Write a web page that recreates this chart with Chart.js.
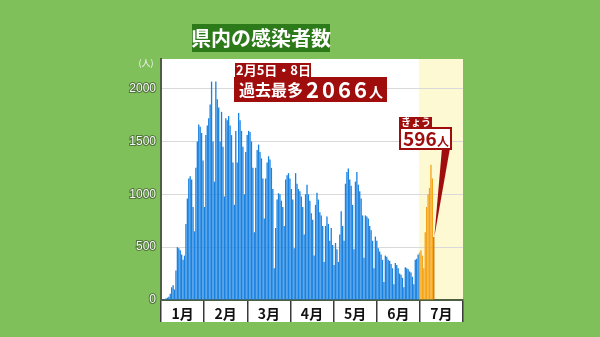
<!DOCTYPE html>
<html><head><meta charset="utf-8">
<script src="https://cdn.jsdelivr.net/npm/chart.js@4.4.0/dist/chart.umd.min.js"></script>
<style>html,body{margin:0;padding:0;background:#80c05a;}#wrap{width:600px;height:337px;position:relative;}</style>
</head><body><div id="wrap"><canvas id="c" width="600" height="337"></canvas></div>
<script>
const titleText = '県内の感染者数';
const monthLabels = ['1月','2月','3月','4月','5月','6月','7月'];
const daysInMonth = [31,28,31,30,31,30,31];
const yTicks = [0,500,1000,1500,2000];
const yMax = 2280;
const unitLabel = '(人)';
// Jan 1 – Jun 30
const janToJunCases = [
  5,8,
  10,15,22,30,60,120,140,
  100,280,500,490,470,430,380,
  420,720,960,1150,1170,1140,880,
  650,1250,1500,1660,1640,1580,1320,
  880,1560,1650,1720,1850,2066,1500,
  1120,2066,1900,1820,1500,1780,1450,
  980,1720,1700,1740,1650,1560,1300,
  900,1600,1300,1770,1700,1600,1450,
  1000,1400,1560,1600,1590,1500,1250,
  640,1250,1420,1470,1400,1340,1150,
  770,1150,1300,1360,1330,1250,1050,
  300,680,950,1010,1000,940,880,
  700,1140,1180,1200,1150,1050,950,
  490,1200,1100,1050,1030,980,880,
  620,1000,1090,1000,940,820,760,
  420,900,1015,950,830,800,700,
  360,700,790,720,560,680,520,
  330,540,480,360,620,840,700,
  560,1100,1210,1245,1140,1080,900,
  480,1120,1210,1090,1030,960,800,
  400,800,790,770,700,660,560,
  300,600,560,490,460,430,380,
  170,420,410,380,370,340,300,
  150,350,330,300,250,240,210,
  120,310,300,290,270,260,220,
  150,380,390,430
];
// Jul 1 – Jul 11
const julyCases = [450,470,420,300,640,880,1000,1060,1280,1150,596];
const peakDate = '2月5日・8日';
const peakText = '過去最多';
const peakValue = '2066';
const todayLabel = 'きょう';
const todayValue = '596';
const personUnit = '人';

const dayLabels = [];
daysInMonth.forEach((n, m) => { for (let d = 1; d <= n; d++) dayLabels.push((m + 1) + '/' + d); });
const nBlue = janToJunCases.length;
const blueData = dayLabels.map((_, i) => i < nBlue ? janToJunCases[i] : null);
const orangeData = dayLabels.map((_, i) => { const j = i - nBlue; return (j >= 0 && j < julyCases.length) ? julyCases[j] : null; });
const lastIndex = nBlue + julyCases.length - 1;

const DARK_RED = '#a00d0d';
const bgPlugin = {
  id: 'bg',
  beforeDraw(chart) {
    const {ctx, chartArea: ca, scales} = chart;
    ctx.save();
    ctx.fillStyle = '#80c05a';
    ctx.fillRect(0, 0, chart.width, chart.height);
    ctx.fillStyle = '#ffffff';
    ctx.fillRect(ca.left, ca.top, ca.right - ca.left, ca.bottom - ca.top);
    const x = scales.x;
    const half = (x.getPixelForValue(1) - x.getPixelForValue(0)) / 2;
    const julX = x.getPixelForValue(nBlue) - half;
    ctx.fillStyle = '#fdf9d3';
    ctx.fillRect(julX, ca.top, ca.right - julX, ca.bottom - ca.top);
    ctx.restore();
  }
};
const notePlugin = {
  id: 'notes',
  afterDraw(chart) {
    const {ctx, chartArea: ca, scales} = chart;
    ctx.save();
    // title
    ctx.fillStyle = '#2d7a1a';
    ctx.fillRect(192, 24, 138, 28);
    ctx.fillStyle = '#ffffff';
    ctx.font = 'bold 20px "Noto Sans CJK JP"';
    ctx.textAlign = 'center'; ctx.textBaseline = 'middle';
    ctx.fillText(titleText, 261, 38.5);
    // unit
    ctx.font = '9px "Noto Sans CJK JP"';
    ctx.fillStyle = '#f2f2f2';
    ctx.fillText(unitLabel, ca.left - 15, ca.top + 4);
    // peak note
    ctx.textAlign = 'left';
    ctx.fillStyle = DARK_RED;
    ctx.fillRect(235, 63, 76, 14);
    ctx.fillStyle = '#ffffff';
    ctx.font = 'bold 13px "Noto Sans CJK JP"';
    ctx.fillText(peakDate, 236, 70.5);
    ctx.fillStyle = DARK_RED;
    ctx.fillRect(234, 77, 153, 25);
    ctx.fillStyle = '#ffffff';
    ctx.font = 'bold 16px "Noto Sans CJK JP"';
    ctx.fillText(peakText, 239, 90);
    ctx.font = 'bold 22px "Noto Sans CJK JP"';
    ctx.letterSpacing = '3px';
    ctx.fillText(peakValue, 306, 90);
    ctx.letterSpacing = '0px';
    ctx.font = 'bold 14px "Noto Sans CJK JP"';
    ctx.fillText(personUnit, 369, 92);
    // today pointer
    const bx = scales.x.getPixelForValue(lastIndex);
    const by = scales.y.getPixelForValue(julyCases[julyCases.length - 1]);
    ctx.fillStyle = DARK_RED;
    ctx.beginPath();
    ctx.moveTo(442, 148); ctx.lineTo(450, 148); ctx.lineTo(bx + 0.5, by); ctx.closePath();
    ctx.fill();
    // today labels
    ctx.fillRect(399, 117, 33, 11);
    ctx.fillStyle = '#ffffff';
    ctx.font = 'bold 10px "Noto Sans CJK JP"';
    ctx.fillText(todayLabel, 401, 122.5);
    ctx.fillStyle = '#ffffff';
    ctx.fillRect(400, 128, 51, 21);
    ctx.strokeStyle = DARK_RED; ctx.lineWidth = 2;
    ctx.strokeRect(400, 128, 51, 21);
    ctx.fillStyle = DARK_RED;
    ctx.font = 'bold 19px "Noto Sans CJK JP"';
    ctx.fillText(todayValue, 403, 139);
    ctx.font = 'bold 12px "Noto Sans CJK JP"';
    ctx.fillText(personUnit, 437, 141);
    ctx.restore();
  }
};

new Chart(document.getElementById('c'), {
  type: 'bar',
  data: {
    labels: dayLabels,
    datasets: [
      { data: blueData, backgroundColor: '#1a82e0', barPercentage: 0.93, categoryPercentage: 1, xAxisID: 'x' },
      { data: orangeData, backgroundColor: (c) => c.dataIndex === lastIndex ? '#c9730c' : '#f5a318', barPercentage: 0.93, categoryPercentage: 1, xAxisID: 'x' }
    ]
  },
  options: {
    responsive: false, devicePixelRatio: 1, animation: false,
    layout: { padding: { left: 121, right: 137, top: 59, bottom: 15 } },
    plugins: { legend: { display: false }, tooltip: { enabled: false }, title: { display: false } },
    scales: {
      x: { display: false, stacked: true, offset: true },
      xm: {
        type: 'category', labels: monthLabels, position: 'bottom', offset: true,
        backgroundColor: '#ffffff',
        afterFit: (s) => { s.height = 22; },
        grid: { offset: true, drawOnChartArea: false, drawTicks: true, tickLength: 22, color: '#3a3a3a', lineWidth: 1.5 },
        border: { display: true, color: '#4d5f40', width: 2 },
        ticks: { color: '#111111', font: { family: '"Noto Sans CJK JP"', size: 14, weight: 'bold' }, padding: -17, autoSkip: false, maxRotation: 0 }
      },
      y: {
        min: 0, max: yMax, stacked: true,
        afterBuildTicks: (s) => { s.ticks = yTicks.map(v => ({ value: v })); },
        afterFit: (s) => { s.width = 40; },
        grid: { color: '#d9d9d9', lineWidth: 1, drawTicks: false },
        border: { color: '#4d5f40', width: 2 },
        ticks: { color: '#f7f7f7', callback: (v) => String(v), font: { family: '"Liberation Sans Narrow", "Liberation Sans", sans-serif', size: 12 }, padding: 5, textStrokeColor: 'rgba(50,70,40,0.6)', textStrokeWidth: 2 }
      }
    }
  },
  plugins: [bgPlugin, notePlugin]
});
</script></body></html>
